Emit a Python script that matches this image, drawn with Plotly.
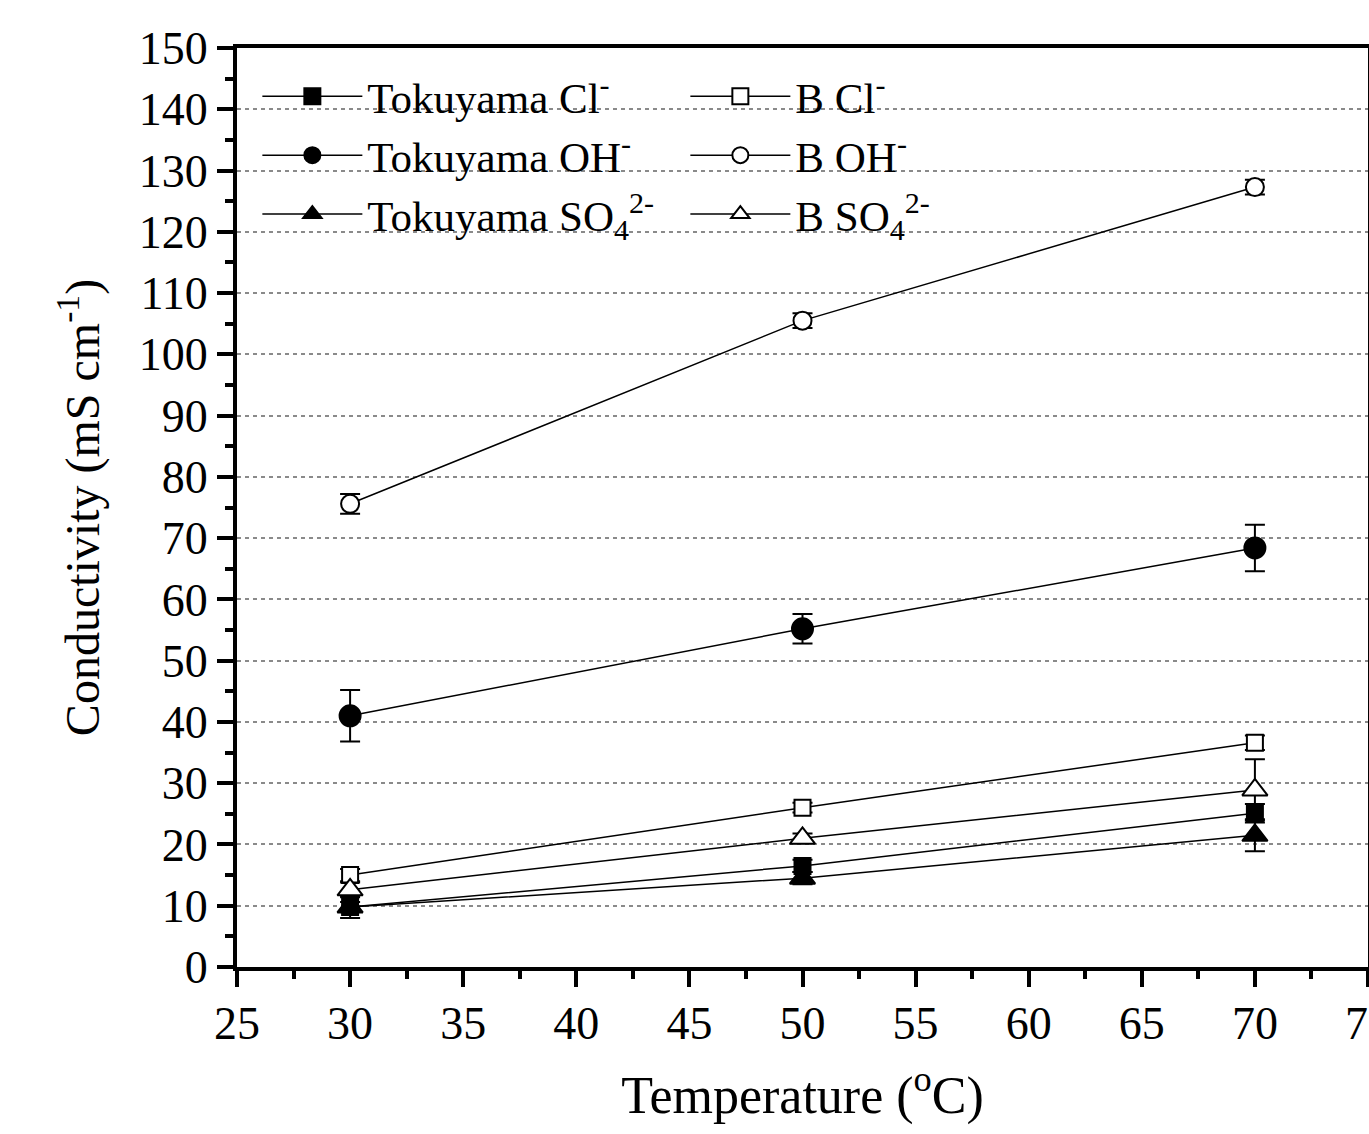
import plotly.graph_objects as go

temps = [30, 50, 70]

tok_cl = [9.8, 16.5, 25.1]
tok_cl_err = [0.8, 1.0, 1.5]
b_cl = [15.0, 26.0, 36.6]
b_cl_err = [1.0, 0.8, 1.2]
tok_oh = [41.0, 55.2, 68.4]
tok_oh_err = [4.2, 2.4, 3.8]
b_oh = [75.6, 105.5, 127.3]
b_oh_err = [1.6, 1.2, 1.2]
tok_so4 = [9.8, 14.5, 21.5]
tok_so4_err = [1.8, 1.0, 2.6]
b_so4 = [12.6, 21.0, 28.9]
b_so4_err = [1.2, 0.8, 5.0]

x_ticks = [25, 30, 35, 40, 45, 50, 55, 60, 65, 70, 75]
y_ticks = [0, 10, 20, 30, 40, 50, 60, 70, 80, 90, 100, 110, 120, 130, 140, 150]

FONT = "Liberation Serif, Times New Roman, serif"

series = [
    ("Tokuyama Cl<sup>-</sup>", tok_cl, tok_cl_err, "square", "black", 16),
    ("B Cl<sup>-</sup>", b_cl, b_cl_err, "square", "white", 16),
    ("Tokuyama OH<sup>-</sup>", tok_oh, tok_oh_err, "circle", "black", 21),
    ("B OH<sup>-</sup>", b_oh, b_oh_err, "circle", "white", 18),
    ("Tokuyama SO<sub>4</sub><sup>2-</sup>", tok_so4, tok_so4_err, "triangle-up", "black", 22),
    ("B SO<sub>4</sub><sup>2-</sup>", b_so4, b_so4_err, "triangle-up", "white", 22),
]

fig = go.Figure()
for name, y, err, sym, fill, size in series:
    fig.add_trace(go.Scatter(
        x=temps, y=y, name=name, mode="lines+markers",
        line=dict(color="black", width=1.5),
        marker=dict(symbol=sym, size=size, color=fill,
                    line=dict(color="black", width=2)),
        error_y=dict(type="data", array=err, visible=True,
                     color="black", thickness=2, width=10),
    ))

fig.update_layout(
    width=1369, height=1134,
    margin=dict(l=237, r=1, t=48, b=167, autoexpand=False),
    paper_bgcolor="white", plot_bgcolor="white",
    font=dict(family=FONT, color="black", size=42),
    showlegend=True,
    legend=dict(
        orientation="h", x=0.018, y=0.985, xanchor="left", yanchor="top",
        entrywidth=313, entrywidthmode="pixels",
        bgcolor="rgba(0,0,0,0)", font=dict(family=FONT, size=43, color="black"),
        itemwidth=100,
    ),
)

fig.update_xaxes(
    range=[25, 75], tickvals=x_ticks, ticktext=[str(v) for v in x_ticks],
    showline=True, linecolor="black", linewidth=4, mirror=True,
    ticks="outside", ticklen=16, tickwidth=4, tickcolor="black",
    minor=dict(dtick=2.5, ticks="outside", ticklen=8, tickwidth=4, tickcolor="black"),
    showgrid=False, zeroline=False, automargin=False, ticklabeloverflow="allow",
    ticklabelstandoff=-3,
    tickfont=dict(family=FONT, size=46),
    title=dict(text="Temperature (<sup>o</sup>C)", font=dict(family=FONT, size=52), standoff=29),
)
fig.update_yaxes(
    range=[0, 150], tickvals=y_ticks, ticktext=[str(v) for v in y_ticks],
    showline=True, linecolor="black", linewidth=4, mirror=True,
    ticks="outside", ticklen=16, tickwidth=4, tickcolor="black",
    minor=dict(dtick=5, ticks="outside", ticklen=8, tickwidth=4, tickcolor="black", showgrid=False),
    showgrid=True, gridcolor="#8a8a8a", gridwidth=2, griddash="4px,4px",
    zeroline=False, automargin=False, ticklabeloverflow="allow",
    tickfont=dict(family=FONT, size=46),
    title=dict(text="Conductivity (mS cm<sup>-1</sup>)", font=dict(family=FONT, size=48), standoff=25),
)

fig.write_html(
    "out.html",
    config={"displayModeBar": False},
    post_script="document.body.style.margin='0';document.body.style.overflow='hidden';",
)
